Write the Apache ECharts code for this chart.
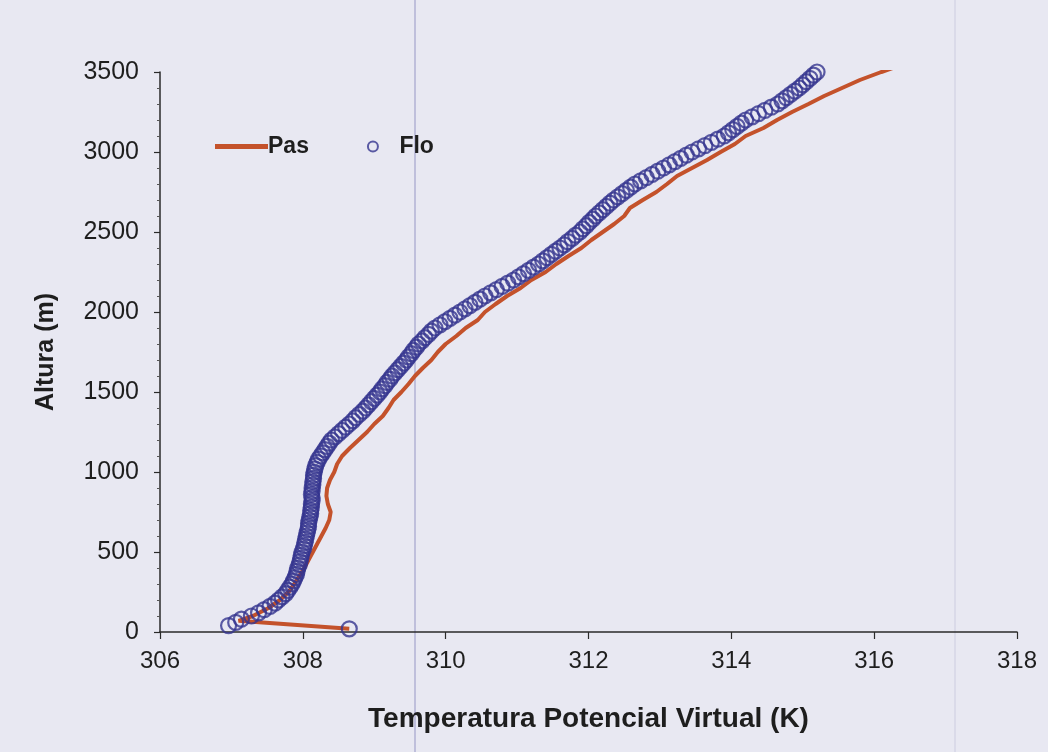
<!DOCTYPE html>
<html>
<head>
<meta charset="utf-8">
<script src="https://cdn.jsdelivr.net/npm/echarts@6/dist/echarts.min.js"></script>
<style>
  html, body { margin: 0; padding: 0; background: #e8e8f2; }
  #chart { width: 1048px; height: 752px; }
</style>
</head>
<body>
<div id="chart"></div>
<script>
// X axis ticks (K) and Y axis ticks (m)
const xTicks = [306, 308, 310, 312, 314, 316, 318];
const yTicks = [0, 500, 1000, 1500, 2000, 2500, 3000, 3500];

// Series "Pas" (line): heights (m) and temperatures (K)
const pasH = [20, 70, 100, 150, 200, 250, 300, 350, 400, 450, 500, 550, 600, 650, 700, 750, 800, 850, 900, 950,
  1000, 1050, 1100, 1150, 1200, 1250, 1300, 1350, 1400, 1450, 1500, 1550, 1600, 1650, 1700, 1750, 1800, 1850, 1900, 1950,
  2000, 2050, 2100, 2150, 2200, 2250, 2300, 2350, 2400, 2450, 2500, 2550, 2600, 2650, 2700, 2750, 2800, 2850, 2900, 2950,
  3000, 3050, 3100, 3150, 3200, 3250, 3300, 3350, 3400, 3450, 3500, 3525];
const pasT = [308.65, 307.10, 307.30, 307.52, 307.68, 307.80, 307.88, 307.95, 308.02, 308.08, 308.14, 308.20, 308.26, 308.32, 308.37, 308.39, 308.35, 308.33, 308.34, 308.38,
  308.44, 308.48, 308.55, 308.66, 308.78, 308.90, 309.00, 309.12, 309.20, 309.27, 309.38, 309.48, 309.57, 309.68, 309.80, 309.89, 310.00, 310.15, 310.28, 310.45,
  310.55, 310.70, 310.86, 311.05, 311.20, 311.40, 311.55, 311.72, 311.90, 312.04, 312.20, 312.36, 312.50, 312.58, 312.76, 312.95, 313.10, 313.24, 313.45, 313.66,
  313.85, 314.05, 314.20, 314.45, 314.64, 314.85, 315.08, 315.30, 315.55, 315.80, 316.10, 316.26];

// Series "Flo" (circles): heights (m) and temperatures (K)
const floH = [20, 40, 60, 80, 100, 120, 140, 160, 180, 200, 220, 240, 260, 280, 300, 320, 340, 360, 380, 400,
  420, 440, 460, 480, 500, 520, 540, 560, 580, 600, 620, 640, 660, 680, 700, 720, 740, 760, 780, 800,
  820, 840, 860, 880, 900, 920, 940, 960, 980, 1000, 1020, 1040, 1060, 1080, 1100, 1120, 1140, 1160, 1180, 1200,
  1220, 1240, 1260, 1280, 1300, 1320, 1340, 1360, 1380, 1400, 1420, 1440, 1460, 1480, 1500, 1520, 1540, 1560, 1580, 1600,
  1620, 1640, 1660, 1680, 1700, 1720, 1740, 1760, 1780, 1800, 1820, 1840, 1860, 1880, 1900, 1920, 1940, 1960, 1980, 2000,
  2020, 2040, 2060, 2080, 2100, 2120, 2140, 2160, 2180, 2200, 2220, 2240, 2260, 2280, 2300, 2320, 2340, 2360, 2380, 2400,
  2420, 2440, 2460, 2480, 2500, 2520, 2540, 2560, 2580, 2600, 2620, 2640, 2660, 2680, 2700, 2720, 2740, 2760, 2780, 2800,
  2820, 2840, 2860, 2880, 2900, 2920, 2940, 2960, 2980, 3000, 3020, 3040, 3060, 3080, 3100, 3120, 3140, 3160, 3180, 3200,
  3220, 3240, 3260, 3280, 3300, 3320, 3340, 3360, 3380, 3400, 3420, 3440, 3460, 3480, 3500, 3520];
const floT = [308.65, 306.96, 307.06, 307.14, 307.28, 307.38, 307.46, 307.54, 307.61, 307.66, 307.71, 307.76, 307.79, 307.82, 307.85, 307.87, 307.89, 307.91, 307.92, 307.93,
  307.95, 307.96, 307.97, 307.98, 307.99, 308.01, 308.02, 308.03, 308.04, 308.05, 308.06, 308.07, 308.08, 308.08, 308.09, 308.10, 308.11, 308.11, 308.12, 308.12,
  308.13, 308.13, 308.12, 308.13, 308.13, 308.14, 308.14, 308.15, 308.15, 308.16, 308.17, 308.18, 308.20, 308.22, 308.25, 308.28, 308.31, 308.34, 308.37, 308.40,
  308.45, 308.50, 308.55, 308.60, 308.65, 308.70, 308.74, 308.79, 308.84, 308.88, 308.92, 308.96, 309.00, 309.04, 309.08, 309.11, 309.15, 309.18, 309.22, 309.25,
  309.29, 309.33, 309.37, 309.41, 309.45, 309.48, 309.52, 309.55, 309.59, 309.62, 309.67, 309.71, 309.76, 309.80, 309.85, 309.92, 309.99, 310.06, 310.13, 310.20,
  310.27, 310.34, 310.41, 310.48, 310.55, 310.63, 310.71, 310.79, 310.87, 310.95, 311.02, 311.09, 311.16, 311.23, 311.30, 311.36, 311.42, 311.48, 311.54, 311.60,
  311.66, 311.71, 311.77, 311.82, 311.88, 311.92, 311.97, 312.01, 312.06, 312.10, 312.15, 312.20, 312.25, 312.30, 312.35, 312.41, 312.47, 312.53, 312.59, 312.65,
  312.73, 312.81, 312.89, 312.97, 313.05, 313.13, 313.21, 313.29, 313.37, 313.45, 313.54, 313.63, 313.72, 313.81, 313.90, 313.96, 314.02, 314.08, 314.14, 314.20,
  314.29, 314.38, 314.47, 314.56, 314.65, 314.71, 314.77, 314.83, 314.89, 314.95, 315.00, 315.05, 315.10, 315.15, 315.20, 315.24];

const xName = 'Temperatura Potencial Virtual (K)';
const yName = 'Altura (m)';
const seriesNames = ['Pas', 'Flo'];

const pasData = pasT.map((t, i) => [t, pasH[i]]);
const floData = floT.map((t, i) => [t, floH[i]]);

const FONT = '"Liberation Sans", Arial, sans-serif';
const PAS_COLOR = '#c4522b';
const FLO_COLOR = '#35358f';
const TEXT = '#1e1e1e';
const chart = echarts.init(document.getElementById('chart'), null, { renderer: 'canvas' });

chart.setOption({
  backgroundColor: '#e8e8f2',
  animation: false,
  textStyle: { fontFamily: FONT },
  grid: { left: 160, right: 31, top: 72, bottom: 120, containLabel: false },
  legend: {
    left: 210, top: 130,
    itemWidth: 53, itemHeight: 10, itemGap: 58,
    textStyle: { fontFamily: FONT, fontWeight: 'bold', fontSize: 23, color: TEXT, padding: [0, 0, 0, -5] },
    data: [
      { name: seriesNames[0], icon: 'path://M0 0H53V5H0Z', itemStyle: { color: PAS_COLOR, borderWidth: 0 } },
      { name: seriesNames[1], icon: 'circle', itemStyle: { color: 'rgba(0,0,0,0)', borderColor: FLO_COLOR, borderWidth: 2 } }
    ]
  },
  xAxis: {
    type: 'value',
    min: xTicks[0], max: xTicks[xTicks.length - 1], interval: 2,
    name: xName, nameLocation: 'middle', nameGap: 73,
    nameTextStyle: { fontFamily: FONT, fontWeight: 'bold', fontSize: 28, color: TEXT },
    axisLine: { show: true, onZero: false, lineStyle: { color: '#2a2a2a', width: 1.5 } },
    axisTick: { show: true, inside: false, length: 7, lineStyle: { color: '#2a2a2a', width: 1.2 } },
    axisLabel: { fontFamily: FONT, fontSize: 24, color: TEXT, margin: 17, formatter: v => String(v) },
    splitLine: { show: false }
  },
  yAxis: {
    type: 'value',
    min: yTicks[0], max: yTicks[yTicks.length - 1], interval: 500,
    name: yName, nameLocation: 'middle', nameGap: 101,
    nameTextStyle: { fontFamily: FONT, fontWeight: 'bold', fontSize: 25, color: TEXT },
    axisLine: { show: true, onZero: false, lineStyle: { color: '#2a2a2a', width: 1.5 } },
    axisTick: { show: true, inside: false, length: 6, lineStyle: { color: '#2a2a2a', width: 1.2 } },
    minorTick: { show: true, splitNumber: 5, length: 3, lineStyle: { color: '#555', width: 1 } },
    axisLabel: { fontFamily: FONT, fontSize: 25, color: TEXT, margin: 21, formatter: v => String(v) },
    splitLine: { show: false }
  },
  graphic: [
    { type: 'line', silent: true, z: -1, shape: { x1: 415, y1: 0, x2: 415, y2: 752 }, style: { stroke: 'rgba(110,110,175,0.55)', lineWidth: 1.2 } },
    { type: 'line', silent: true, z: -1, shape: { x1: 955, y1: 0, x2: 955, y2: 752 }, style: { stroke: 'rgba(150,150,190,0.35)', lineWidth: 1 } }
  ],
  series: [
    {
      name: seriesNames[0], type: 'line', data: pasData,
      symbol: 'none', showSymbol: false, smooth: false,
      lineStyle: { color: PAS_COLOR, width: 4 },
      itemStyle: { color: PAS_COLOR },
      z: 2
    },
    {
      name: seriesNames[1], type: 'scatter', data: floData,
      symbol: 'circle', symbolSize: 15,
      itemStyle: { color: 'rgba(0,0,0,0)', borderColor: FLO_COLOR, borderWidth: 2.2 },
      z: 3
    }
  ]
});
</script>
</body>
</html>
